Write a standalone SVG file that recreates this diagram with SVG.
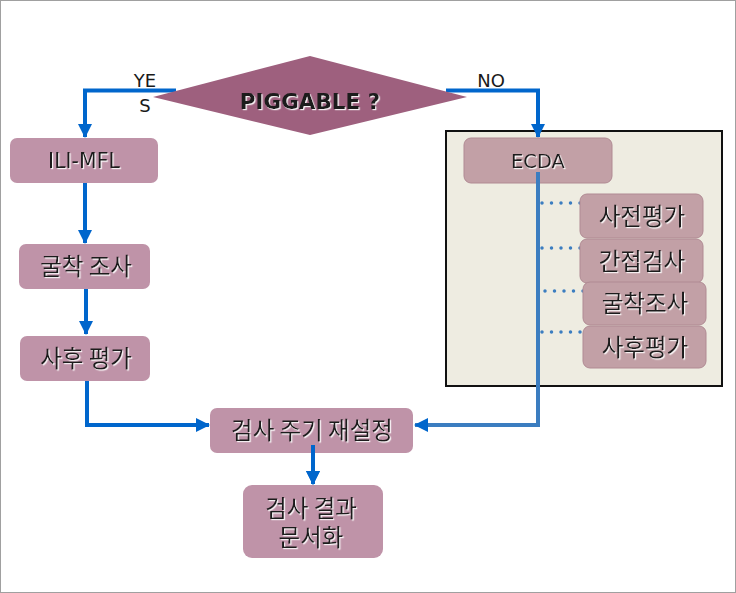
<svg xmlns="http://www.w3.org/2000/svg" width="736" height="593" viewBox="0 0 736 593">
<style>
.box{fill:#BF93A8;}
.ebox{fill:#C2A0A6;stroke:#B08A93;stroke-width:1;}
.lat{font-family:"DejaVu Sans",sans-serif;fill:#1a1a1a;}
.kr{font-family:"Noto Sans CJK KR","Noto Sans CJK SC",sans-serif;fill:#1a1a1a;font-size:23.5px;}
.sh{filter:url(#shadow);}
.conn{fill:none;stroke:#0066CC;stroke-width:4;}
.dots{fill:none;stroke:#3B7DC0;stroke-width:3.5;stroke-linecap:round;stroke-dasharray:0 9.5;}
</style>
<defs>
<filter id="shadow" x="-10%" y="-20%" width="120%" height="140%">
<feDropShadow dx="1.2" dy="1.2" stdDeviation="0.4" flood-color="#ffffff" flood-opacity="0.9"/>
</filter>
<marker id="ah" markerUnits="userSpaceOnUse" markerWidth="14" markerHeight="14" refX="13" refY="7" orient="auto">
<path d="M0,0 L14,7 L0,14 Z" fill="#0066CC"/>
</marker>
<marker id="ah2" markerUnits="userSpaceOnUse" markerWidth="14" markerHeight="14" refX="13" refY="7" orient="auto">
<path d="M0,0 L14,7 L0,14 Z" fill="#0066CC"/>
</marker>
</defs>
<rect x="0.5" y="0.5" width="735" height="592" fill="#ffffff" stroke="#a0a0a0" stroke-width="1"/>

<g id="ecda-panel">
<rect x="446" y="131" width="276" height="255" fill="#EEECE1" stroke="#111" stroke-width="2"/>
</g>

<g id="connectors">
<polyline class="conn" points="176,90.5 85,90.5 85,137" marker-end="url(#ah)"/>
<polyline class="conn" points="446,90.5 538,90.5 538,137" marker-end="url(#ah)"/>
<line class="conn" x1="85" y1="178" x2="85" y2="243" marker-end="url(#ah)"/>
<line class="conn" x1="86" y1="281" x2="86" y2="334" marker-end="url(#ah)"/>
<polyline class="conn" points="87,372 87,425 209,425" marker-end="url(#ah)"/>
<line class="conn" x1="313" y1="445" x2="313" y2="484" marker-end="url(#ah)"/>
</g>

<g id="diamond">
<polygon points="310,56 467,97 310,135 153,97" fill="#9E607E"/>
<text class="lat sh" x="310" y="109" font-size="21.5" font-weight="bold" text-anchor="middle">PIGGABLE ?</text>
</g>
<g id="label-yes">
<text class="lat" x="145" y="87" font-size="18" text-anchor="middle">YE</text>
<text class="lat" x="145" y="112" font-size="18" text-anchor="middle">S</text>
</g>
<g id="label-no">
<text class="lat" x="491" y="87" font-size="18" text-anchor="middle">NO</text>
</g>

<g id="ili-mfl">
<rect class="box" x="10" y="138" width="148" height="45" rx="7"/>
<text class="lat sh" x="84" y="168" font-size="20.5" text-anchor="middle">ILI-MFL</text>
</g>
<g id="excavation">
<rect class="box" x="19" y="244" width="131" height="45" rx="7"/>
<text class="kr sh" x="86" y="275" text-anchor="middle">굴착 조사</text>
</g>
<g id="post-assess">
<rect class="box" x="20" y="336" width="130" height="45" rx="7"/>
<text class="kr sh" x="86" y="367" text-anchor="middle">사후 평가</text>
</g>

<g id="ecda">
<rect class="ebox" x="464" y="138" width="148" height="45" rx="7" stroke="none"/>
<text class="lat sh" x="538" y="168" font-size="19.5" text-anchor="middle">ECDA</text>
</g>

<g id="ecda-connectors">
<polyline class="conn" points="538,172 538,425 415,425" style="stroke:#3B7DC0" marker-end="url(#ah2)"/>
<line class="dots" x1="542" y1="203" x2="590" y2="203"/>
<line class="dots" x1="542" y1="248" x2="590" y2="248"/>
<line class="dots" x1="545" y1="291" x2="593" y2="291"/>
<line class="dots" x1="542" y1="332" x2="593" y2="332"/>
</g>

<g id="pre-assess">
<rect class="ebox" x="580" y="194" width="123" height="44" rx="7"/>
<text class="kr sh" x="642" y="225" text-anchor="middle">사전평가</text>
</g>
<g id="indirect">
<rect class="ebox" x="580" y="239" width="123" height="44" rx="7"/>
<text class="kr sh" x="642" y="270" text-anchor="middle">간접검사</text>
</g>
<g id="ecda-excavation">
<rect class="ebox" x="583" y="282" width="123" height="43" rx="7"/>
<text class="kr sh" x="645" y="312" text-anchor="middle">굴착조사</text>
</g>
<g id="ecda-post">
<rect class="ebox" x="583" y="326" width="123" height="42" rx="7"/>
<text class="kr sh" x="645" y="356" text-anchor="middle">사후평가</text>
</g>

<g id="reset-cycle">
<rect class="box" x="210" y="408" width="203" height="45" rx="7"/>
<text class="kr sh" x="312" y="439" text-anchor="middle">검사 주기 재설정</text>
</g>
<line class="conn" x1="313" y1="445" x2="313" y2="484" marker-end="url(#ah)"/>

<g id="documentation">
<rect class="box" x="243" y="485" width="140" height="73" rx="9"/>
<text class="kr sh" x="311" y="517" text-anchor="middle">검사 결과</text>
<text class="kr sh" x="311" y="546" text-anchor="middle">문서화</text>
</g>
</svg>
